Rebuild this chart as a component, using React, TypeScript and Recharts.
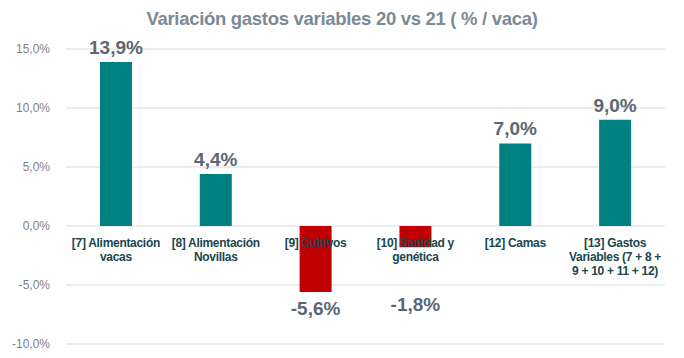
import { BarChart, Bar, XAxis, YAxis, CartesianGrid, Cell, LabelList } from "recharts";

const categories = ["[7] Alimentación vacas", "[8] Alimentación Novillas", "[9] Cultivos", "[10] Sanidad y genética", "[12] Camas", "[13] Gastos Variables (7 + 8 + 9 + 10 + 11 + 12)"];
const categoryLines = [
  ["[7] Alimentación", "vacas"],
  ["[8] Alimentación", "Novillas"],
  ["[9] Cultivos"],
  ["[10] Sanidad y", "genética"],
  ["[12] Camas"],
  ["[13] Gastos", "Variables (7 + 8 +", "9 + 10 + 11 + 12)"],
];
const values = [13.9, 4.4, -5.6, -1.8, 7.0, 9.0];
const yTicks = [-10, -5, 0, 5, 10, 15];

const data = categories.map((name, i) => ({ name, idx: i, value: values[i] }));

const W = 684;
const H = 358;
const margin = { top: 49, right: 19, bottom: 0, left: 8 };
const xAxisH = 14;
const yMin = -10;
const yMax = 15;
const plotH = H - margin.top - margin.bottom - xAxisH;
const zeroY = margin.top + (plotH * yMax) / (yMax - yMin);

const fmt = (v: number) => v.toFixed(1).replace(".", ",") + "%";

const CatTick = (props: any) => {
  const { x, payload } = props;
  const lines = categoryLines[payload.index] || [payload.value];
  return (
    <text
      x={x}
      y={zeroY + 21}
      textAnchor="middle"
      fill="#1a4650"
      fontSize={12}
      fontWeight="bold"
      letterSpacing={-0.3}
      fontFamily="'Liberation Sans', Arial, sans-serif"
    >
      {lines.map((l: string, i: number) => (
        <tspan key={i} x={x} dy={i === 0 ? 0 : 14}>
          {l}
        </tspan>
      ))}
    </text>
  );
};

const ValueLabel = (props: any) => {
  const { x, y, width, height, value } = props;
  const neg = value < 0;
  const cx = x + width / 2;
  const top = Math.min(y, y + height);
  const bottom = Math.max(y, y + height);
  const ty = neg ? Math.max(bottom + 23, zeroY + 85) : top - 8;
  return (
    <text
      x={cx}
      y={ty}
      textAnchor="middle"
      fill="#5b6872"
      fontSize={19}
      fontWeight="bold"
      fontFamily="'Liberation Sans', Arial, sans-serif"
    >
      {fmt(value)}
    </text>
  );
};

export default function App() {
  return (
    <div style={{ position: "absolute", left: 0, top: 0, width: W, height: H, background: "#fff" }}>
      <div
        style={{
          position: "absolute",
          left: 0,
          top: 8,
          width: W,
          textAlign: "center",
          fontFamily: "'Liberation Sans', Arial, sans-serif",
          fontWeight: "bold",
          fontSize: 18.5,
          color: "#7b8a95",
          letterSpacing: -0.3,
        }}
      >
        Variación gastos variables 20 vs 21 ( % / vaca)
      </div>
      <BarChart width={W} height={H} data={data} margin={margin} barCategoryGap="34%">
        <CartesianGrid vertical={false} stroke="#d9d9d9" />
        <XAxis
          dataKey="name"
          height={xAxisH}
          axisLine={false}
          tickLine={false}
          tick={CatTick}
          interval={0}
          zIndex={-1}
        />
        <YAxis
          domain={[yMin, yMax]}
          ticks={yTicks}
          width={58}
          axisLine={false}
          tickLine={false}
          tickFormatter={fmt}
          tick={{ fill: "#7f7f7f", fontSize: 12, fontFamily: "'Liberation Sans', Arial, sans-serif" }}
          tickMargin={10}
        />
        <Bar dataKey="value" isAnimationActive={false} zIndex={400}>
          {data.map((d) => (
            <Cell key={d.idx} fill={d.value < 0 ? "#c00000" : "#008080"} />
          ))}
          <LabelList dataKey="value" content={ValueLabel} />
        </Bar>
      </BarChart>
    </div>
  );
}
